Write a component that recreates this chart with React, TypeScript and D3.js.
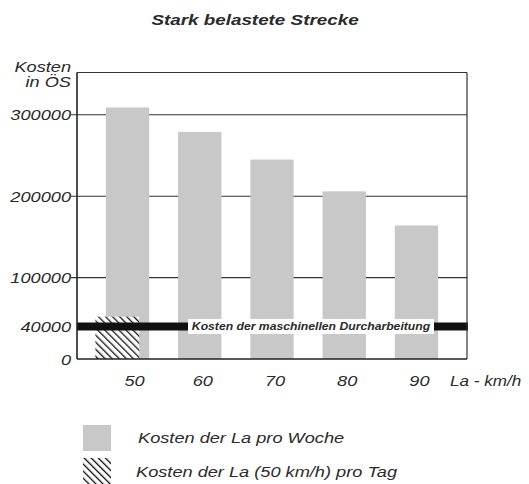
import React from "react";
import * as d3 from "d3";

const speeds = ["50", "60", "70", "80", "90"];
const weeklyCost = [309000, 279000, 245000, 206000, 164000];
const dailyCost50 = 52000;
const machineCost = 40000;
const yTicks = [0, 40000, 100000, 200000, 300000];
const gridValues = [100000, 200000, 300000];

const W = 529;
const H = 484;
const left = 77;
const right = 467;
const top = 72.5;
const bottom = 359;
const ink = "#2a2a2a";

// italic text, stretched horizontally like the scanned typeface
const Txt = ({ x, y, size = 14, sx = 1.3, anchor = "start", bold = false, children }: any) => (
  <text
    transform={`translate(${x},${y}) scale(${sx},1)`}
    textAnchor={anchor}
    fontSize={size}
    fontStyle="italic"
    fontWeight={bold ? "bold" : "normal"}
    fill={ink}
  >
    {children}
  </text>
);

const App = () => {
  const y = d3.scaleLinear().domain([0, 352000]).range([bottom, top]);
  const x = d3.scaleBand().domain(speeds).range([left, right]).paddingInner(0.4).paddingOuter(0.4);
  const bw = x.bandwidth();
  const font = "'Liberation Sans', Arial, sans-serif";
  const gray = "#c8c8c8";

  return (
    <svg width={W} height={H} style={{ position: "absolute", left: 0, top: 0, background: "#fff" }} fontFamily={font}>
      <defs>
        <pattern id="hatch" patternUnits="userSpaceOnUse" width="5" height="5" patternTransform="rotate(-45)">
          <rect width="5" height="5" fill="#fff" />
          <line x1="0" y1="0" x2="0" y2="5" stroke="#111" strokeWidth="2.6" />
        </pattern>
      </defs>

      <Txt x={255} y={25} size={14.5} anchor="middle" bold>Stark belastete Strecke</Txt>

      {/* grid with short outside ticks */}
      {gridValues.map((v) => (
        <line key={v} x1={left - 6} x2={right} y1={y(v)} y2={y(v)} stroke="#333" strokeWidth={1.1} />
      ))}

      {/* weekly bars */}
      {weeklyCost.map((v, i) => (
        <rect key={speeds[i]} x={x(speeds[i])} y={y(v)} width={bw} height={bottom - y(v)} fill={gray} />
      ))}

      {/* daily cost 50 km/h */}
      <rect x={(x("50") as number) - 10.5} y={y(dailyCost50)} width={bw + 0.5} height={bottom - y(dailyCost50)} fill="url(#hatch)" />

      {/* machine cost line */}
      <line x1={left} x2={right + 1} y1={y(machineCost)} y2={y(machineCost)} stroke="#111" strokeWidth={8} />
      <rect x={188} y={y(machineCost) - 7.5} width={246} height={15} fill="#fff" />
      <Txt x={311} y={y(machineCost) + 3.5} size={10} sx={1.22} anchor="middle" bold>
        Kosten der maschinellen Durcharbeitung
      </Txt>

      {/* frame */}
      <line x1={left} x2={right} y1={top} y2={top} stroke="#333" strokeWidth={1.2} />
      <line x1={right} x2={right} y1={top} y2={bottom} stroke="#333" strokeWidth={1.2} />
      <line x1={left} x2={left} y1={top} y2={bottom} stroke="#222" strokeWidth={1.6} />
      <line x1={left} x2={right} y1={bottom} y2={bottom} stroke="#222" strokeWidth={1.6} />

      {/* y axis labels */}
      <Txt x={71} y={72} anchor="end">Kosten</Txt>
      <Txt x={71} y={87} anchor="end">in ÖS</Txt>
      {yTicks.map((v) => (
        <Txt key={v} x={71} y={y(v) + 5.5} anchor="end">{v}</Txt>
      ))}

      {/* x labels */}
      {speeds.map((s, i) => (
        <Txt key={s} x={(x(s) as number) + bw / 2 + (i === 0 ? 7 : 3)} y={386} anchor="middle">{s}</Txt>
      ))}
      <Txt x={450} y={386} sx={1.22}>La - km/h</Txt>

      {/* legend */}
      <rect x={83} y={425} width={28} height={26} fill={gray} />
      <Txt x={138} y={443}>Kosten der La pro Woche</Txt>
      <rect x={83} y={458} width={28} height={26} fill="url(#hatch)" />
      <Txt x={136} y={477}>Kosten der La (50 km/h) pro Tag</Txt>
    </svg>
  );
};

export default App;
